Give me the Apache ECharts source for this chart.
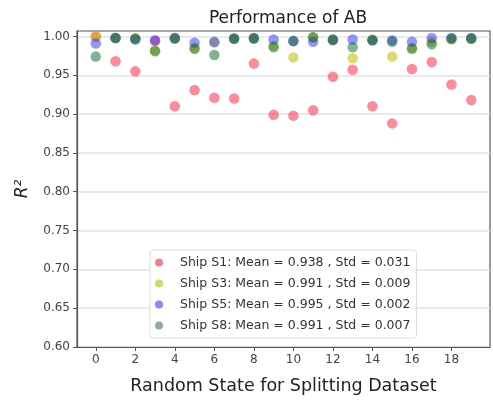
<!DOCTYPE html>
<html>
<head>
<meta charset="utf-8">
<script src="https://cdn.jsdelivr.net/npm/echarts@6/dist/echarts.min.js"></script>
<style>html,body{margin:0;padding:0;background:#fff;}#c{width:493px;height:406px;}</style>
</head>
<body>
<div id="c"></div>
<script>
const randomStates = [0,1,2,3,4,5,6,7,8,9,10,11,12,13,14,15,16,17,18,19];
const shipS1 = [1.000,0.968,0.955,0.994,0.910,0.931,0.921,0.920,0.965,0.899,0.898,0.905,0.948,0.957,0.910,0.888,0.958,0.967,0.938,0.918];
const shipS3 = [1.000,0.998,0.998,0.982,0.998,0.985,0.992,0.998,0.998,0.988,0.973,0.999,0.996,0.972,0.996,0.974,0.985,0.993,0.996,0.997];
const shipS5 = [0.991,0.998,0.996,0.995,0.998,0.992,0.993,0.997,0.998,0.996,0.994,0.993,0.996,0.996,0.995,0.995,0.993,0.998,0.998,0.998];
const shipS8 = [0.974,0.998,0.997,0.981,0.997,0.984,0.976,0.997,0.997,0.986,0.994,0.999,0.995,0.986,0.995,0.993,0.984,0.990,0.997,0.997];
const seriesNames = [
  'Ship S1: Mean = 0.938 , Std = 0.031',
  'Ship S3: Mean = 0.991 , Std = 0.009',
  'Ship S5: Mean = 0.995 , Std = 0.002',
  'Ship S8: Mean = 0.991 , Std = 0.007'
];
const xTicks = [0,2,4,6,8,10,12,14,16,18];
const yTicks = [0.60,0.65,0.70,0.75,0.80,0.85,0.90,0.95,1.00];
const colors = ['rgba(255,20,50,0.62)','rgba(190,190,0,0.7)','rgba(40,40,255,0.62)','rgba(0,105,35,0.62)'];
const legendColors = ['#f0606e','#cccc40','#6a6aff','#6f9a7c'];
const allData = [shipS1, shipS3, shipS5, shipS8];

const chart = echarts.init(document.getElementById('c'), null, {renderer:'canvas'});
const font = 'DejaVu Sans';
chart.setOption({
  animation:false,
  backgroundColor:'#fff',
  title:{text:'Performance of AB', left:283, top:5, textAlign:'center',
    textStyle:{fontFamily:font, fontSize:17, fontWeight:'normal', color:'#222'}},
  grid:{left:77, right:3, top:31, bottom:59, show:true, borderColor:'#555', borderWidth:1.2},
  legend:{
    orient:'vertical', left:150, top:250, itemGap:8,
    data: seriesNames.map((n,i)=>({name:n, icon:'circle', itemStyle:{color:legendColors[i]}})),
    itemWidth:24, itemHeight:8,
    textStyle:{fontFamily:font, fontSize:12.5, color:'#333', padding:[0,0,0,4]},
    backgroundColor:'rgba(255,255,255,0.85)', borderColor:'#ddd', borderWidth:1, borderRadius:3,
    padding:[6,6,6,5]
  },
  xAxis:{
    type:'value', min:-0.95, max:19.95,
    name:'Random State for Splitting Dataset', nameLocation:'middle', nameGap:30,
    nameTextStyle:{fontFamily:font, fontSize:17.5, color:'#222'},
    axisLine:{show:true, onZero:false, lineStyle:{color:'#555', width:1.2}},
    axisTick:{show:true, customValues:xTicks, length:4, lineStyle:{color:'#555'}},
    axisLabel:{customValues:xTicks, fontFamily:font, fontSize:12, color:'#444', margin:7},
    splitLine:{show:false}
  },
  yAxis:{
    type:'value', min:0.6, max:1.007,
    name:'R²', nameLocation:'middle', nameGap:46, nameRotate:90,
    nameTextStyle:{fontFamily:font, fontSize:17, fontStyle:'italic', color:'#222'},
    axisLine:{show:true, onZero:false, lineStyle:{color:'#555', width:1.2}},
    axisTick:{show:true, customValues:yTicks, length:4, lineStyle:{color:'#555'}},
    axisLabel:{customValues:yTicks, fontFamily:font, fontSize:12, color:'#444', margin:7,
      formatter:v=>v.toFixed(2)},
    splitLine:{show:true, customValues:yTicks, lineStyle:{color:'#e3e3e3', width:1.5}}
  },
  series: allData.map((d,i)=>({
    name:seriesNames[i], type:'scatter', symbol:'circle', symbolSize:10.5,
    itemStyle:{color:colors[i]},
    data:randomStates.map((x,j)=>[x,d[j]])
  }))
});
</script>
</body>
</html>
